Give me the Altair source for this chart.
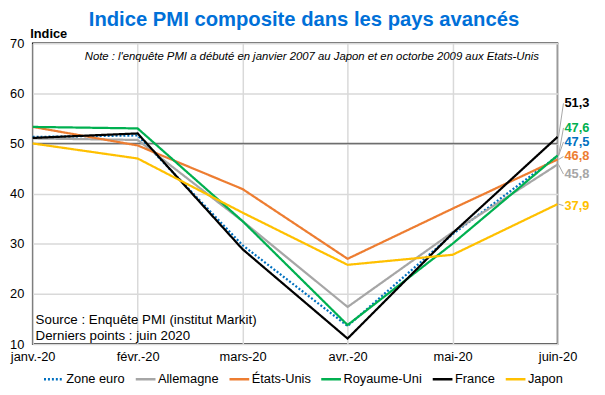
import altair as alt
import pandas as pd

months = ["janv.-20", "févr.-20", "mars-20", "avr.-20", "mai-20", "juin-20"]
series = ["Zone euro", "Allemagne", "États-Unis", "Royaume-Uni", "France", "Japon"]

zone_euro = [51.3, 51.6, 29.7, 13.6, 31.9, 47.5]
allemagne = [51.0, 50.7, 34.5, 17.4, 32.3, 45.8]
etats_unis = [53.3, 49.6, 40.9, 27.0, 37.0, 46.8]
royaume_uni = [53.3, 53.0, 34.5, 13.8, 30.0, 47.6]
france = [51.1, 52.0, 28.9, 11.1, 32.1, 51.3]
japon = [50.0, 47.0, 36.2, 25.8, 27.8, 37.9]

values = [zone_euro, allemagne, etats_unis, royaume_uni, france, japon]
colors = ["#0070C0", "#A6A6A6", "#ED7D31", "#00B050", "#000000", "#FFC000"]
dashes = [[2, 2], [1, 0], [1, 0], [1, 0], [1, 0], [1, 0]]

# where the end-value labels sit (data units)
label_pos = [50.3, 43.9, 47.4, 53.1, 58.0, 37.6]

note = "Note : l'enquête PMI a débuté en janvier 2007 au Japon et en octorbe 2009 aux Etats-Unis"
source = "Source : Enquête PMI (institut Markit)\nDerniers points : juin 2020"
title = "Indice PMI composite dans les pays avancés"

rows = []
for s, vals in zip(series, values):
    for i, (m, v) in enumerate(zip(months, vals)):
        rows.append({"series": s, "month": m, "idx": i, "value": v})
df = pd.DataFrame(rows)

lab = pd.DataFrame({
    "series": series,
    "month": [months[-1]] * len(series),
    "value": [v[-1] for v in values],
    "label_y": label_pos,
    "text": [f"{v[-1]:.1f}".replace(".", ",") for v in values],
})

FONT = "Liberation Sans"

x_scale = alt.Scale(type="point", padding=0, domain=months)
x_enc = alt.X("month:N", sort=months, scale=x_scale,
              axis=alt.Axis(title=None, grid=True, gridColor="#D9D9D9", gridWidth=1.5,
                            domain=False, ticks=False, labelAngle=0, labelFontSize=13,
                            labelFont=FONT, labelColor="black", labelPadding=7))
y_scale = alt.Scale(domain=[10, 70], nice=False, zero=False)
y_enc = alt.Y("value:Q", scale=y_scale,
              axis=alt.Axis(values=[10, 20, 30, 40, 50, 60, 70], grid=True, gridColor="#D9D9D9",
                            gridWidth=1.5, domain=False, ticks=False, labelFontSize=13,
                            labelFont=FONT, labelColor="black", labelPadding=9,
                            title="Indice", titleAngle=0, titleAlign="left", titleBaseline="bottom",
                            titleX=-3, titleY=-3, titleFont=FONT, titleFontSize=13,
                            titleFontWeight="bold", titleColor="black"))

color_scale = alt.Scale(domain=series, range=colors)
leg = dict(title=None, orient="none", legendX=10, legendY=329, direction="horizontal",
           columns=6, symbolType="stroke", symbolSize=400, symbolStrokeWidth=2.5,
           labelFontSize=13, labelFont=FONT, labelColor="black", columnPadding=5,
           labelOffset=1, padding=0)

lines = alt.Chart(df).mark_line(strokeWidth=2.25).encode(
    x=x_enc,
    y=y_enc,
    color=alt.Color("series:N", scale=color_scale, legend=alt.Legend(**leg)),
    strokeDash=alt.StrokeDash("series:N", scale=alt.Scale(domain=series, range=dashes),
                              legend=alt.Legend(**leg)),
    order=alt.Order("idx:Q"),
)

fifty = alt.Chart(pd.DataFrame({"value": [50]})).mark_rule(color="#6E6E6E", strokeWidth=1.5).encode(
    y=alt.Y("value:Q", scale=y_scale)
)

leaders = alt.Chart(lab).mark_rule(color="#A6A6A6", strokeWidth=1, xOffset=1, x2Offset=6).encode(
    x=alt.X("month:N", sort=months, scale=x_scale),
    x2="month:N",
    y=alt.Y("value:Q", scale=y_scale),
    y2="label_y:Q",
)

labels = alt.Chart(lab).mark_text(align="left", baseline="middle", dx=7, fontSize=13,
                                  fontWeight="bold", font=FONT).encode(
    x=alt.X("month:N", sort=months, scale=x_scale),
    y=alt.Y("label_y:Q", scale=y_scale),
    text="text:N",
    color=alt.Color("series:N", scale=color_scale, legend=None),
)

note_t = alt.Chart(pd.DataFrame({"t": [note]})).mark_text(
    fontStyle="italic", fontSize=11.5, font=FONT, color="black", align="center", baseline="middle"
).encode(text="t:N", x=alt.value(283), y=alt.value(14))

src_t = alt.Chart(pd.DataFrame({"t": [source]})).mark_text(
    fontSize=13.5, font=FONT, color="black", align="left", baseline="top", lineBreak="\n", lineHeight=16
).encode(text="t:N", x=alt.value(3), y=alt.value(274))

chart = alt.layer(fifty, lines, leaders, labels, note_t, src_t).properties(
    width=532, height=305,
    title=alt.TitleParams(title, fontSize=20.5, fontWeight="bold", color="#0070D8", font=FONT,
                          anchor="middle", dx=9, offset=-3),
    autosize=alt.AutoSizeParams(type="none"),
    padding={"left": 25, "top": 33, "right": 40, "bottom": 49},
).configure_view(stroke="black", strokeWidth=1.5)

chart.save("out.html", embed_options={"renderer": "svg", "actions": False})
